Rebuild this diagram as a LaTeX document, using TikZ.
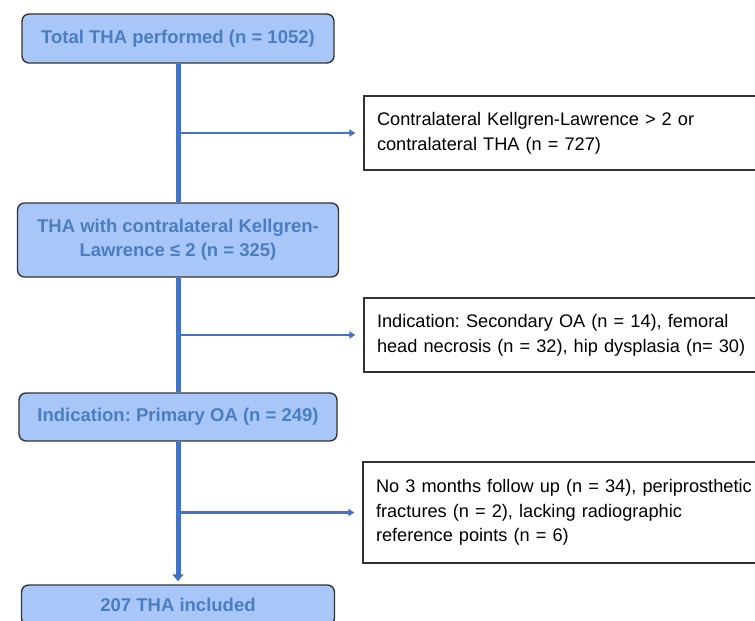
\documentclass[tikz,border=0pt]{standalone}
\usepackage{fontspec}
\setmainfont{Liberation Sans}
\usetikzlibrary{arrows.meta}
\definecolor{boxfill}{RGB}{168,199,248}
\definecolor{boxtext}{RGB}{74,126,191}
\definecolor{spine}{RGB}{68,114,196}
\definecolor{boxline}{RGB}{50,50,50}
\frenchspacing
\begin{document}
\begin{tikzpicture}[x=1pt, y=-1pt,
			stage/.style={
				rectangle,
				rounded corners=2.5mm,
				draw=boxline,
				line width=1.4pt,
				fill=boxfill,
				text=boxtext,
				align=center,
				font=\fontsize{18.5}{24}\selectfont\bfseries,
			},
			excl/.style={
				rectangle,
				draw=boxline,
				line width=1.2pt,
				fill=white,
				minimum width=426pt,
				inner xsep=13pt,
				text width=400pt,
				align=left,
				font=\fontsize{18.2}{25}\selectfont,
			},
			MainLine/.style={
				line width=5pt,
				draw=spine,
			},
			SideArrow/.style={
				line width=2.5pt,
				draw=spine,
				-{Triangle[length=6pt,width=7pt]},
				shorten >=8pt,
			},
			]
				\useasboundingbox (0,0) rectangle (755,621);
				\clip (0,0) rectangle (755,621);
				% main stages
				\node[stage, minimum width=312pt, minimum height=49pt] (total) at (178,38.5) {Total THA performed (n = 1052)};
				\node[stage, minimum width=321pt, minimum height=74pt] (contra) at (178,240) {THA with contralateral Kellgren-\\Lawrence ≤ 2 (n = 325)};
				\node[stage, minimum width=318pt, minimum height=48pt] (primary) at (178,417) {Indication: Primary OA (n = 249)};
				\node[stage, minimum width=313pt, minimum height=40pt] (incl) at (178,605) {207 THA included};
				
				% exclusions
				\node[excl, minimum height=74pt] (ex1) at (577,133) {Contralateral Kellgren-Lawrence > 2 or\\contralateral THA (n = 727)};
				\node[excl, minimum height=74pt] (ex2) at (577,335) {Indication: Secondary OA (n = 14), femoral\\head necrosis (n = 32), hip dysplasia (n= 30)};
				\node[excl, minimum height=101pt, font=\fontsize{18.2}{24.5}\selectfont] (ex3) at (576,512.5) {No 3 months follow up (n = 34), periprosthetic\\fractures (n = 2), lacking radiographic\\reference points (n = 6)};
				
				\draw[MainLine] (total.south) -- (contra.north);
				\draw[MainLine] (contra.south) -- (primary.north);
				\draw[MainLine, -{Triangle[length=7pt,width=11pt]}, shorten >=3pt] (primary.south) -- (incl.north);
				
				\draw[SideArrow] (total.south |- ex1.west) -- (ex1.west);
				\draw[SideArrow] (total.south |- ex2.west) -- (ex2.west);
				\draw[SideArrow] (total.south |- ex3.west) -- (ex3.west);
			\end{tikzpicture}
\end{document}
